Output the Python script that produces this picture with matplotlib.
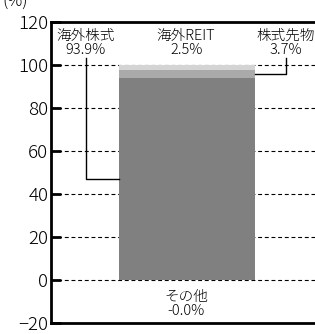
import matplotlib
matplotlib.use('Agg')
import matplotlib.pyplot as plt

plt.rcParams['font.family'] = ['Noto Sans CJK JP', 'DejaVu Sans']

# stacked order, bottom to top
names = ['海外株式', '株式先物', '海外REIT']
values = [93.9, 3.7, 2.5]
colors = ['#808080', '#aaaaaa', '#d4d4d4']
other_name = 'その他'
other_value = -0.0
yticks = [-20, 0, 20, 40, 60, 80, 100, 120]

fig = plt.figure(figsize=(3.15, 3.34), dpi=100)
ax = fig.add_axes([51/315, 11/334, 1.02 - 51/315, 301/334])

bar_l, bar_r = 0.25, 0.754
bottom = 0
mids = []
for v, c in zip(values, colors):
    ax.bar(bar_l, v, width=bar_r - bar_l, bottom=bottom, align='edge',
           color=c, zorder=2)
    mids.append(bottom + v / 2)
    bottom += v

ax.set_xlim(0, 1)
ax.set_ylim(-20, 120)
ax.set_yticks(yticks)
ax.set_xticks([])
for y in yticks[1:-1]:
    ax.axhline(y, color='black', lw=0.8, ls=(0, (3.5, 2.5)), zorder=1)

for s in ['left', 'top', 'bottom']:
    ax.spines[s].set_linewidth(2)
ax.spines['right'].set_visible(False)
ax.tick_params(axis='y', direction='in', length=7, width=2, labelsize=13.5,
               pad=2)
for t in ax.get_yticklabels():
    t.set_fontweight('light')

# leader lines
lab_y = 110.3
ax.plot([bar_l, 0.129, 0.129], [mids[0], mids[0], 103.3], color='black',
        lw=1, zorder=3)
ax.plot([bar_r, 0.868, 0.868], [mids[1], mids[1], 103.3], color='black',
        lw=1, zorder=3)

fs = 10.5
kw = dict(ha='center', va='center', fontsize=fs, linespacing=1.0,
          fontweight='light')
ax.text(0.129, lab_y, f'{names[0]}\n{values[0]:.1f}%', **kw)
ax.text(0.868, lab_y, f'{names[1]}\n{values[1]:.1f}%', **kw)
ax.text(0.5, lab_y, f'{names[2]}\n{values[2]:.1f}%', **kw)
ax.text(0.5, -11.2, f'{other_name}\n-{abs(other_value):.1f}%', **kw)

fig.text(15/315, 0.995, '(%)', ha='center', va='center', fontsize=12,
         fontweight='light')

fig.savefig('out.png', dpi=100)
